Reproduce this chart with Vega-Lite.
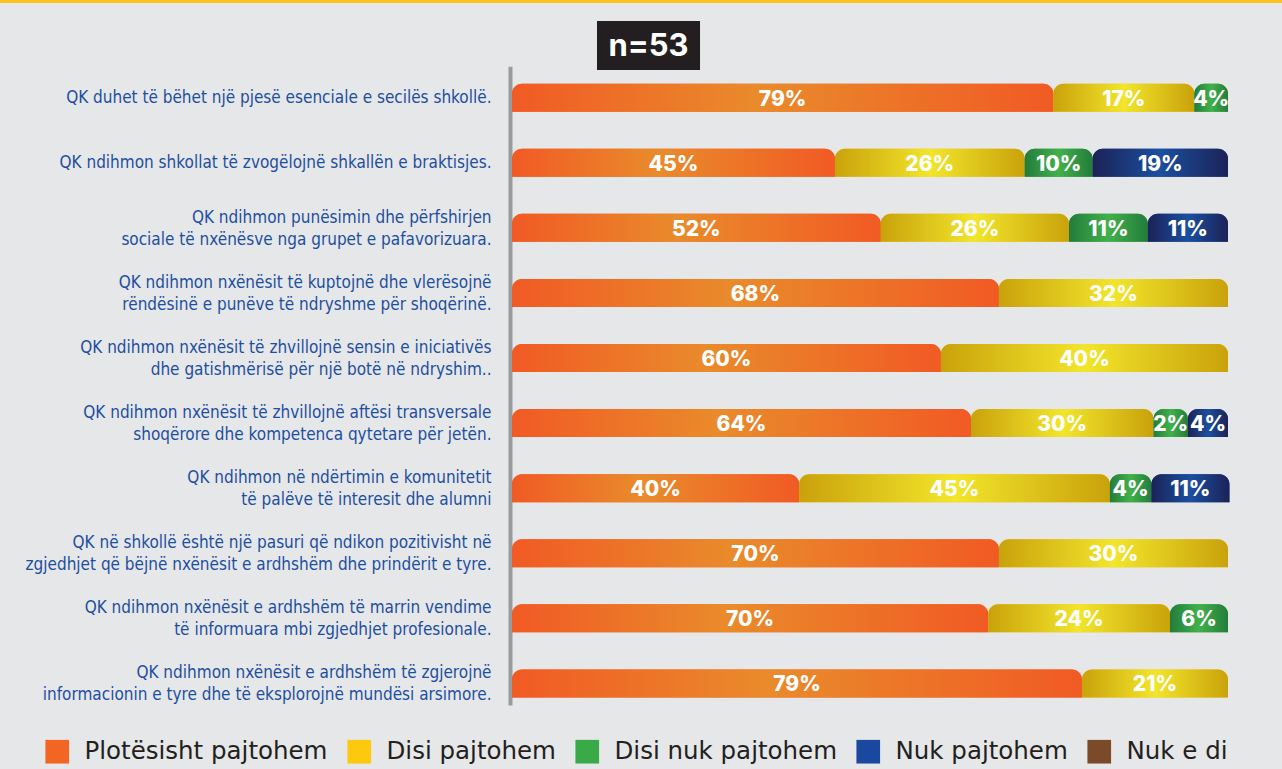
{
  "$schema": "https://vega.github.io/schema/vega-lite/v6.json",
  "width": 716,
  "height": 716,
  "autosize": "none",
  "padding": {"left": 512, "top": 0, "right": 54, "bottom": 53},
  "background": "#e6e7e8",
  "config": {
    "view": {"stroke": null},
    "legend": {
      "orient": "none",
      "legendX": -467,
      "legendY": 739,
      "direction": "horizontal",
      "columns": 5,
      "symbolType": "square",
      "symbolSize": 560,
      "symbolStrokeWidth": 0,
      "labelFont": "DejaVu Sans",
      "labelFontSize": 24.5,
      "labelColor": "#231f20",
      "labelOffset": 15,
      "columnPadding": 19,
      "labelLimit": 0,
      "title": null
    }
  },
  "data": {
    "values": [
      {"q": "QK duhet të bëhet një pjesë esenciale e secilës shkollë.", "cat": "Plotësisht pajtohem", "pct": 75.6, "label": "79%"},
      {"q": "QK duhet të bëhet një pjesë esenciale e secilës shkollë.", "cat": "Disi pajtohem", "pct": 19.7, "label": "17%"},
      {"q": "QK duhet të bëhet një pjesë esenciale e secilës shkollë.", "cat": "Disi nuk pajtohem", "pct": 4.7, "label": "4%"},
      {"q": "QK ndihmon shkollat të zvogëlojnë shkallën e braktisjes.", "cat": "Plotësisht pajtohem", "pct": 45.1, "label": "45%"},
      {"q": "QK ndihmon shkollat të zvogëlojnë shkallën e braktisjes.", "cat": "Disi pajtohem", "pct": 26.5, "label": "26%"},
      {"q": "QK ndihmon shkollat të zvogëlojnë shkallën e braktisjes.", "cat": "Disi nuk pajtohem", "pct": 9.5, "label": "10%"},
      {"q": "QK ndihmon shkollat të zvogëlojnë shkallën e braktisjes.", "cat": "Nuk pajtohem", "pct": 18.9, "label": "19%"},
      {"q": "QK ndihmon punësimin dhe përfshirjen|sociale të nxënësve nga grupet e pafavorizuara.", "cat": "Plotësisht pajtohem", "pct": 51.5, "label": "52%"},
      {"q": "QK ndihmon punësimin dhe përfshirjen|sociale të nxënësve nga grupet e pafavorizuara.", "cat": "Disi pajtohem", "pct": 26.3, "label": "26%"},
      {"q": "QK ndihmon punësimin dhe përfshirjen|sociale të nxënësve nga grupet e pafavorizuara.", "cat": "Disi nuk pajtohem", "pct": 11.0, "label": "11%"},
      {"q": "QK ndihmon punësimin dhe përfshirjen|sociale të nxënësve nga grupet e pafavorizuara.", "cat": "Nuk pajtohem", "pct": 11.2, "label": "11%"},
      {"q": "QK ndihmon nxënësit të kuptojnë dhe vlerësojnë|rëndësinë e punëve të ndryshme për shoqërinë.", "cat": "Plotësisht pajtohem", "pct": 68.0, "label": "68%"},
      {"q": "QK ndihmon nxënësit të kuptojnë dhe vlerësojnë|rëndësinë e punëve të ndryshme për shoqërinë.", "cat": "Disi pajtohem", "pct": 32.0, "label": "32%"},
      {"q": "QK ndihmon nxënësit të zhvillojnë sensin e iniciativës|dhe gatishmërisë për një botë në ndryshim..", "cat": "Plotësisht pajtohem", "pct": 59.9, "label": "60%"},
      {"q": "QK ndihmon nxënësit të zhvillojnë sensin e iniciativës|dhe gatishmërisë për një botë në ndryshim..", "cat": "Disi pajtohem", "pct": 40.1, "label": "40%"},
      {"q": "QK ndihmon nxënësit të zhvillojnë aftësi transversale|shoqërore dhe kompetenca qytetare për jetën.", "cat": "Plotësisht pajtohem", "pct": 64.1, "label": "64%"},
      {"q": "QK ndihmon nxënësit të zhvillojnë aftësi transversale|shoqërore dhe kompetenca qytetare për jetën.", "cat": "Disi pajtohem", "pct": 25.5, "label": "30%"},
      {"q": "QK ndihmon nxënësit të zhvillojnë aftësi transversale|shoqërore dhe kompetenca qytetare për jetën.", "cat": "Disi nuk pajtohem", "pct": 4.8, "label": "2%"},
      {"q": "QK ndihmon nxënësit të zhvillojnë aftësi transversale|shoqërore dhe kompetenca qytetare për jetën.", "cat": "Nuk pajtohem", "pct": 5.6, "label": "4%"},
      {"q": "QK ndihmon në ndërtimin e komunitetit|të palëve të interesit dhe alumni", "cat": "Plotësisht pajtohem", "pct": 40.1, "label": "40%"},
      {"q": "QK ndihmon në ndërtimin e komunitetit|të palëve të interesit dhe alumni", "cat": "Disi pajtohem", "pct": 43.4, "label": "45%"},
      {"q": "QK ndihmon në ndërtimin e komunitetit|të palëve të interesit dhe alumni", "cat": "Disi nuk pajtohem", "pct": 5.8, "label": "4%"},
      {"q": "QK ndihmon në ndërtimin e komunitetit|të palëve të interesit dhe alumni", "cat": "Nuk pajtohem", "pct": 10.9, "label": "11%"},
      {"q": "QK në shkollë është një pasuri që ndikon pozitivisht në|zgjedhjet që bëjnë nxënësit e ardhshëm dhe prindërit e tyre.", "cat": "Plotësisht pajtohem", "pct": 68.0, "label": "70%"},
      {"q": "QK në shkollë është një pasuri që ndikon pozitivisht në|zgjedhjet që bëjnë nxënësit e ardhshëm dhe prindërit e tyre.", "cat": "Disi pajtohem", "pct": 32.0, "label": "30%"},
      {"q": "QK ndihmon nxënësit e ardhshëm të marrin vendime|të informuara mbi zgjedhjet profesionale.", "cat": "Plotësisht pajtohem", "pct": 66.5, "label": "70%"},
      {"q": "QK ndihmon nxënësit e ardhshëm të marrin vendime|të informuara mbi zgjedhjet profesionale.", "cat": "Disi pajtohem", "pct": 25.4, "label": "24%"},
      {"q": "QK ndihmon nxënësit e ardhshëm të marrin vendime|të informuara mbi zgjedhjet profesionale.", "cat": "Disi nuk pajtohem", "pct": 8.1, "label": "6%"},
      {"q": "QK ndihmon nxënësit e ardhshëm të zgjerojnë|informacionin e tyre dhe të eksplorojnë mundësi arsimore.", "cat": "Plotësisht pajtohem", "pct": 79.6, "label": "79%"},
      {"q": "QK ndihmon nxënësit e ardhshëm të zgjerojnë|informacionin e tyre dhe të eksplorojnë mundësi arsimore.", "cat": "Disi pajtohem", "pct": 20.4, "label": "21%"}
    ]
  },
  "layer": [
    {
      "data": {"values": [{}]},
      "mark": {"type": "rule", "color": "#9b9b9d", "strokeWidth": 4, "xOffset": -1.5, "yOffset": -31, "y2Offset": 22},
      "encoding": {
        "x": {"datum": 0, "type": "quantitative", "scale": {"domain": [0, 100]}, "axis": null},
        "y": {"datum": "QK duhet të bëhet një pjesë esenciale e secilës shkollë.", "type": "nominal"},
        "y2": {"datum": "QK ndihmon nxënësit e ardhshëm të zgjerojnë|informacionin e tyre dhe të eksplorojnë mundësi arsimore."}
      }
    },
    {
      "data": {"values": [{}]},
      "mark": {"type": "rule", "color": "#fcc31a", "strokeWidth": 3, "yOffset": -31},
      "encoding": {
        "x": {"datum": -71.6, "type": "quantitative"},
        "x2": {"datum": 107.6},
        "y": {"datum": "n", "type": "nominal"}
      }
    },
    {
      "transform": [
        {"calculate": "indexof(['Plotësisht pajtohem','Disi pajtohem','Disi nuk pajtohem','Nuk pajtohem'], datum.cat)", "as": "k"},
        {"stack": "pct", "groupby": ["q"], "sort": [{"field": "k", "order": "ascending"}], "as": ["x0", "x1"]}
      ],
      "mark": {"type": "bar", "height": 28, "cornerRadiusTopLeft": 10, "cornerRadiusTopRight": 10},
      "encoding": {
        "y": {
          "field": "q", "type": "nominal", "sort": null,
          "scale": {
            "domain": [
              "n",
              "QK duhet të bëhet një pjesë esenciale e secilës shkollë.",
              "QK ndihmon shkollat të zvogëlojnë shkallën e braktisjes.",
              "QK ndihmon punësimin dhe përfshirjen|sociale të nxënësve nga grupet e pafavorizuara.",
              "QK ndihmon nxënësit të kuptojnë dhe vlerësojnë|rëndësinë e punëve të ndryshme për shoqërinë.",
              "QK ndihmon nxënësit të zhvillojnë sensin e iniciativës|dhe gatishmërisë për një botë në ndryshim..",
              "QK ndihmon nxënësit të zhvillojnë aftësi transversale|shoqërore dhe kompetenca qytetare për jetën.",
              "QK ndihmon në ndërtimin e komunitetit|të palëve të interesit dhe alumni",
              "QK në shkollë është një pasuri që ndikon pozitivisht në|zgjedhjet që bëjnë nxënësit e ardhshëm dhe prindërit e tyre.",
              "QK ndihmon nxënësit e ardhshëm të marrin vendime|të informuara mbi zgjedhjet profesionale.",
              "QK ndihmon nxënësit e ardhshëm të zgjerojnë|informacionin e tyre dhe të eksplorojnë mundësi arsimore."
            ],
            "paddingInner": 0, "paddingOuter": 0
          },
          "axis": {
            "title": null, "domain": false, "ticks": false, "labelPadding": 21,
            "labelFont": "DejaVu Sans Condensed", "labelFontSize": 17, "labelColor": "#1d4f9f",
            "labelLimit": 0, "labelLineHeight": 22,
            "labelOffset": {"condition": {"test": "indexof(datum.value, '|') >= 0", "value": -10}, "value": 0},
            "labelExpr": "datum.value == 'n' ? '' : split(datum.value, '|')"
          }
        },
        "x": {"field": "x0", "type": "quantitative"},
        "x2": {"field": "x1"},
        "color": {
          "field": "cat", "type": "nominal",
          "scale": {
            "domain": ["Plotësisht pajtohem", "Disi pajtohem", "Disi nuk pajtohem", "Nuk pajtohem", "Nuk e di"],
            "range": ["#f26522", "#fec80f", "#3aaa48", "#1a47a0", "#7a4a29"]
          }
        }
      }
    },
    {
      "transform": [
        {"calculate": "indexof(['Plotësisht pajtohem','Disi pajtohem','Disi nuk pajtohem','Nuk pajtohem'], datum.cat)", "as": "k"},
        {"stack": "pct", "groupby": ["q"], "sort": [{"field": "k", "order": "ascending"}], "as": ["x0", "x1"]}
      ],
      "mark": {"type": "bar", "height": 28, "cornerRadiusTopLeft": 10, "cornerRadiusTopRight": 10},
      "encoding": {
        "y": {"field": "q", "type": "nominal", "sort": null},
        "x": {"field": "x0", "type": "quantitative"},
        "x2": {"field": "x1"},
        "fill": {
          "condition": [
            {"test": "datum.k === 0", "value": {"gradient": "linear", "x1": 0, "y1": 0, "x2": 1, "y2": 0, "stops": [{"offset": 0, "color": "#f15a24"}, {"offset": 0.45, "color": "#e98b2b"}, {"offset": 1, "color": "#f15a24"}]}},
            {"test": "datum.k === 1", "value": {"gradient": "linear", "x1": 0, "y1": 0, "x2": 1, "y2": 0, "stops": [{"offset": 0, "color": "#c9a20b"}, {"offset": 0.5, "color": "#f2e52b"}, {"offset": 1, "color": "#c9a20b"}]}},
            {"test": "datum.k === 2", "value": {"gradient": "linear", "x1": 0, "y1": 0, "x2": 1, "y2": 0, "stops": [{"offset": 0, "color": "#237c3b"}, {"offset": 0.5, "color": "#41b14a"}, {"offset": 1, "color": "#237c3b"}]}}
          ],
          "value": {"gradient": "linear", "x1": 0, "y1": 0, "x2": 1, "y2": 0, "stops": [{"offset": 0, "color": "#1c2257"}, {"offset": 0.5, "color": "#1b4f9f"}, {"offset": 1, "color": "#1c2257"}]}
        }
      }
    },
    {
      "transform": [
        {"calculate": "indexof(['Plotësisht pajtohem','Disi pajtohem','Disi nuk pajtohem','Nuk pajtohem'], datum.cat)", "as": "k"},
        {"stack": "pct", "groupby": ["q"], "sort": [{"field": "k", "order": "ascending"}], "as": ["x0", "x1"]},
        {"calculate": "(datum.x0 + datum.x1) / 2", "as": "xm"}
      ],
      "mark": {"type": "text", "color": "white", "font": "Inter", "fontWeight": 800, "fontSize": 21, "baseline": "middle", "align": "center", "yOffset": 2},
      "encoding": {
        "y": {"field": "q", "type": "nominal", "sort": null},
        "x": {"field": "xm", "type": "quantitative"},
        "text": {"field": "label"}
      }
    },
    {
      "data": {"values": [{}]},
      "mark": {"type": "bar", "height": 49, "color": "#231f20", "yOffset": 13},
      "encoding": {
        "y": {"datum": "n", "type": "nominal"},
        "x": {"datum": 11.87, "type": "quantitative"},
        "x2": {"datum": 26.26}
      }
    },
    {
      "data": {"values": [{"label": "n=53"}]},
      "mark": {"type": "text", "color": "white", "font": "Inter", "fontWeight": "bold", "fontSize": 31, "baseline": "middle", "align": "center", "yOffset": 14},
      "encoding": {
        "y": {"datum": "n", "type": "nominal"},
        "x": {"datum": 19.07, "type": "quantitative"},
        "text": {"field": "label"}
      }
    }
  ]
}
